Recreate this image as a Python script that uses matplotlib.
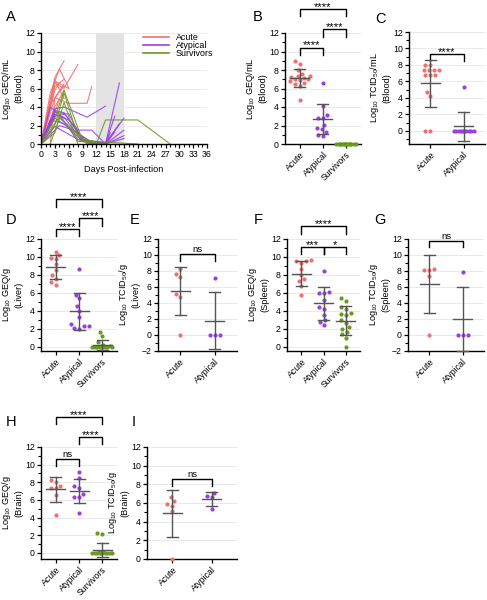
import numpy as np
import matplotlib
matplotlib.use("Agg")
import matplotlib.pyplot as plt
from matplotlib.ticker import MultipleLocator

plt.rcParams['font.family'] = ['Liberation Sans', 'DejaVu Sans']
plt.rcParams['mathtext.default'] = 'regular'
plt.rcParams['font.size'] = 6.5

C_ACUTE = '#F07070'
C_ATYP = '#9A3FE6'
C_SURV = '#6A9A1E'
C_ERR = '#555555'
colors = {'Acute': C_ACUTE, 'Atypical': C_ATYP, 'Survivors': C_SURV}

# ---- panel A: blood kinetics per animal
acute_days = [[0, 3, 5], [0, 3, 5, 8], [0, 2, 4, 6], [0, 3, 6, 10, 11], [0, 3, 5],
              [0, 2, 5], [0, 3, 4], [0, 3, 5], [0, 2, 3, 6], [0, 3, 5], [2, 3, 5],
              [0, 2, 4]]
acute_vals = [[0, 7.2, 9.0], [0, 6.6, 6.0, 8.6], [0, 5.5, 8.1, 6.1], [0, 5.0, 4.4, 4.4, 6.2],
              [0, 6.2, 7.0], [0, 4.3, 6.3], [0, 5.8, 6.6], [0, 4.0, 5.8], [0, 3.8, 6.8, 6.0],
              [0, 6.9, 4.9], [0, 5.0, 6.5], [0, 2.2, 4.8]]
atyp_days = [[0, 3, 5, 10, 14], [0, 3, 5, 8, 11, 14, 17], [0, 3, 6, 9, 14, 18],
             [0, 2, 5, 9, 14, 18], [0, 3, 6, 10, 14, 18], [0, 3, 5, 9, 14, 16],
             [0, 4, 7, 11, 14, 18], [0, 2, 4, 8, 14, 17], [0, 3, 6, 11, 14, 16],
             [0, 3, 8, 14, 15], [0, 3, 5, 9, 11]]
atyp_vals = [[0, 3.8, 4.0, 2.9, 4.1], [0, 3.4, 3.3, 1.5, 1.5, 0, 6.6], [0, 3.0, 3.3, 0.4, 0, 2.8],
             [0, 2.6, 2.2, 0.3, 0, 1.5], [0, 3.2, 2.6, 0, 0, 0.9], [0, 3.6, 3.4, 0.5, 0.1, 3.0],
             [0, 2.0, 1.5, 0.1, 0, 0.6], [0, 4.0, 3.2, 0.3, 0.1, 2.2], [0, 2.8, 1.8, 0.2, 0, 1.3],
             [0, 1.9, 0.5, 0, 1.2], [0, 3.2, 2.9, 0.3, 0]]
surv_days = [[0, 3, 5, 8, 12, 14, 21, 28], [0, 3, 5, 9, 14, 21], [0, 2, 4, 8, 11],
             [2, 4, 6, 10, 14], [0, 3, 5, 8]]
surv_vals = [[0, 2.0, 5.5, 0.8, 0, 2.6, 2.6, 0], [0, 2.8, 5.8, 0.4, 0.2, 0], [0, 1.5, 3.0, 0.5, 0],
             [0, 2.8, 2.0, 0.2, 0], [0, 1.2, 4.5, 0]]

# ---- scatter panels: values, group means and SDs
b_groups = ['Acute', 'Atypical', 'Survivors']
b_vals = [[9.0, 8.7, 8.0, 7.6, 7.4, 7.3, 7.2, 7.1, 7.0, 7.0, 6.9, 6.8, 6.6, 6.5, 6.3, 4.8],
          [6.6, 4.1, 3.1, 2.8, 2.8, 2.1, 1.7, 1.6, 1.3, 1.0, 0.9],
          [0] * 14]
b_mean = [7.15, 2.7, 0.0]
b_sd = [1.0, 1.6, 0.0]

c_groups = ['Acute', 'Atypical']
c_vals = [[8.0, 8.0, 7.4, 7.4, 7.4, 7.4, 6.8, 6.8, 6.8, 4.7, 4.2, 0, 0],
          [5.3] + [0] * 10]
c_mean = [5.75, 0.55]
c_sd = [2.85, 1.75]

d_groups = ['Acute', 'Atypical', 'Survivors']
d_vals = [[10.6, 10.2, 9.9, 9.8, 9.2, 8.6, 8.0, 7.6, 7.2, 6.9],
          [8.7, 5.8, 5.4, 4.5, 4.0, 3.3, 2.5, 2.3, 2.3, 2.1, 2.0],
          [1.7, 1.2, 0.5, 0.2, 0.1, 0.1, 0, 0, 0, 0, 0, 0, 0, 0]]
d_mean = [8.85, 3.95, 0.2]
d_sd = [1.35, 2.05, 0.55]

e_groups = ['Acute', 'Atypical']
e_vals = [[8.3, 7.6, 7.3, 5.1, 4.8, 0], [7.1, 0, 0, 0]]
e_mean = [5.5, 1.8]
e_sd = [3.0, 3.55]

f_groups = ['Acute', 'Atypical', 'Survivors']
f_vals = [[9.7, 9.6, 9.5, 9.3, 8.7, 8.0, 7.5, 7.3, 6.8, 5.8],
          [8.4, 6.1, 6.0, 6.0, 5.2, 4.4, 4.2, 3.6, 3.0, 2.8, 2.4],
          [5.4, 5.1, 4.4, 4.2, 3.8, 3.7, 3.6, 3.0, 2.7, 2.2, 2.0, 1.7, 1.4, 1.0, 0.0]]
f_mean = [8.15, 4.85, 2.9]
f_sd = [1.35, 1.85, 1.6]

g_groups = ['Acute', 'Atypical']
g_vals = [[8.3, 8.1, 8.1, 7.4, 0], [7.9, 0, 0, 0]]
g_mean = [6.4, 2.0]
g_sd = [3.6, 3.95]

h_groups = ['Acute', 'Atypical', 'Survivors']
h_vals = [[8.3, 8.0, 7.6, 7.4, 7.3, 6.6, 4.3],
          [9.2, 8.5, 7.6, 7.4, 6.7, 6.3, 6.3, 4.5],
          [2.2, 2.1, 0.1, 0.1, 0, 0, 0, 0, 0, 0, 0, 0, 0, 0]]
h_mean = [7.2, 7.0, 0.3]
h_sd = [1.45, 1.4, 0.8]

i_groups = ['Acute', 'Atypical']
i_vals = [[6.6, 6.2, 5.9, 5.7, 5.1, 0], [7.1, 6.7, 6.6, 5.4]]
i_mean = [4.9, 6.4]
i_sd = [2.5, 0.75]

fig = plt.figure(figsize=(4.87, 6.0), dpi=100)
W, H = 487.0, 600.0


def add_ax(l, t, r, b):
    return fig.add_axes([l / W, 1 - b / H, (r - l) / W, (b - t) / H])


def style(ax, ylim, ylabel):
    ax.set_ylim(*ylim)
    ax.yaxis.set_major_locator(MultipleLocator(2))
    ax.yaxis.set_minor_locator(MultipleLocator(1))
    ax.grid(axis='y', color='#e6e6e6', lw=0.6)
    ax.set_axisbelow(True)
    for s in ['top', 'right']:
        ax.spines[s].set_visible(False)
    for s in ['left', 'bottom']:
        ax.spines[s].set_linewidth(1.0)
    ax.tick_params(which='major', length=3, width=0.9, labelsize=6.3, pad=1.5)
    ax.tick_params(which='minor', length=2, width=0.8)
    ax.set_ylabel(ylabel, fontsize=6.6, linespacing=1.15)
    wpx = ax.get_position().width * W
    ax.yaxis.set_label_coords(-18.0 / wpx, 0.5)


def swarm(vals, ppx, ppy, diam=5.0, maxw=10.0):
    # simple beeswarm in pixel space, offsets returned in category units
    v = np.array(vals, float)
    order = np.argsort(v)
    cands = sorted(np.arange(-maxw, maxw + 0.01, 0.5), key=lambda c: (abs(c), c))
    placed = []
    offs = np.zeros(len(v))
    for idx in order:
        y = v[idx] * ppy
        best, best_d = 0.0, -1.0
        for c in cands:
            d = min([np.hypot(c - px, y - py) for px, py in placed] or [99.0])
            if d >= diam:
                best = c
                break
            if d > best_d:
                best, best_d = c, d
        placed.append((best, y))
        offs[idx] = best / ppx
    return offs


def strip(ax, groups, vals, means, sds, ylim, ylabel, brackets):
    n = len(groups)
    ax.set_xlim(-0.65, n - 0.35)
    pos = ax.get_position()
    ppx = pos.width * W / (n + 0.3)  # pixels per category
    ppy = pos.height * H / (ylim[1] - ylim[0])
    mw, cw = 9.5 / ppx, 5.5 / ppx
    for i, g in enumerate(groups):
        offs = swarm(vals[i], ppx, ppy)
        ax.scatter(i + offs, vals[i], s=9, color=colors[g], lw=0, zorder=3, clip_on=False)
        m, s = means[i], sds[i]
        ax.plot([i - mw, i + mw], [m, m], color=C_ERR, lw=1.0, zorder=4)
        if s > 0:
            ax.plot([i, i], [m - s, m + s], color=C_ERR, lw=1.0, zorder=4, clip_on=False)
            for y in (m - s, m + s):
                ax.plot([i - cw, i + cw], [y, y], color=C_ERR, lw=1.0, zorder=4, clip_on=False)
    ax.set_xticks(range(n))
    ax.set_xticklabels(groups, rotation=45, ha='right', rotation_mode='anchor', fontsize=6.6)
    style(ax, ylim, ylabel)
    for (a, b, y, txt) in brackets:
        h = 0.8
        ax.plot([a, a, b, b], [y - h, y, y, y - h], color='black', lw=1.0, clip_on=False)
        if txt == 'ns':
            ax.annotate(txt, xy=((a + b) / 2, y), xytext=(0, 1.5), textcoords='offset points',
                        ha='center', va='baseline', fontsize=6.8, annotation_clip=False)
        else:
            ax.annotate(txt, xy=((a + b) / 2, y), xytext=(0, -0.5), textcoords='offset points',
                        ha='center', va='baseline', fontsize=8, annotation_clip=False)


def letter(x, y, s):
    fig.text(x / W, 1 - y / H, s, fontsize=10.5, ha='left', va='center')


# ---- A
axA = add_ax(41, 33, 207, 144)
axA.axvspan(12, 18, color='#e3e3e3', lw=0, zorder=0)
for days, vals in zip(acute_days, acute_vals):
    axA.plot(days, vals, color=C_ACUTE, lw=0.8, alpha=0.9)
for days, vals in zip(atyp_days, atyp_vals):
    axA.plot(days, vals, color=C_ATYP, lw=0.8, alpha=0.9)
for days, vals in zip(surv_days, surv_vals):
    axA.plot(days, vals, color=C_SURV, lw=0.8, alpha=0.9)
axA.set_xlim(0, 36)
axA.xaxis.set_major_locator(MultipleLocator(3))
axA.xaxis.set_minor_locator(MultipleLocator(1))
style(axA, (0, 12), 'Log$_{10}$ GEQ/mL\n(Blood)')
axA.set_xlabel('Days Post-infection', fontsize=6.6, labelpad=4)
hl = [plt.Line2D([], [], color=c, lw=1.2) for c in (C_ACUTE, C_ATYP, C_SURV)]
axA.legend(hl, ['Acute', 'Atypical', 'Survivors'], loc='upper left', bbox_to_anchor=(0.614, 1.0),
           frameon=False, fontsize=6.4, handlelength=2.9, labelspacing=-0.1, handletextpad=0.8,
           borderaxespad=0, borderpad=0)

# ---- B..I
axB = add_ax(285, 33, 361, 144)
strip(axB, b_groups, b_vals, b_mean, b_sd, (0, 12), 'Log$_{10}$ GEQ/mL\n(Blood)',
      [(0, 1, 10.4, '****'), (1, 2, 12.4, '****'), (0, 2, 14.6, '****')])

axC = add_ax(409, 32, 485, 144)
strip(axC, c_groups, c_vals, c_mean, c_sd, (-1.6, 12), 'Log$_{10}$ TCID$_{50}$/mL\n(Blood)',
      [(0, 1, 9.3, '****')])

axD = add_ax(41, 239, 117, 351)
strip(axD, d_groups, d_vals, d_mean, d_sd, (-0.45, 12), 'Log$_{10}$ GEQ/g\n(Liver)',
      [(0, 1, 13.1, '****'), (1, 2, 14.3, '****'), (0, 2, 16.4, '****')])

axE = add_ax(158, 239, 237, 351)
strip(axE, e_groups, e_vals, e_mean, e_sd, (-2, 12), 'Log$_{10}$ TCID$_{50}$/g\n(Liver)',
      [(0, 1, 10.1, 'ns')])

axF = add_ax(287, 239, 360, 351)
strip(axF, f_groups, f_vals, f_mean, f_sd, (-0.45, 12), 'Log$_{10}$ GEQ/g\n(Spleen)',
      [(0, 1, 11.1, '***'), (1, 2, 11.1, '*'), (0, 2, 13.4, '****')])

axG = add_ax(408, 239, 484, 351)
strip(axG, g_groups, g_vals, g_mean, g_sd, (-2, 12), 'Log$_{10}$ TCID$_{50}$/g\n(Spleen)',
      [(0, 1, 11.8, 'ns')])

axH = add_ax(41, 447, 117, 559)
strip(axH, h_groups, h_vals, h_mean, h_sd, (-0.7, 12), 'Log$_{10}$ GEQ/g\n(Brain)',
      [(0, 1, 10.6, 'ns'), (1, 2, 13.1, '****'), (0, 2, 15.4, '****')])

axI = add_ax(147, 447, 237, 559)
strip(axI, i_groups, i_vals, i_mean, i_sd, (0, 12), 'Log$_{10}$ TCID$_{50}$/g\n(Brain)',
      [(0, 1, 8.6, 'ns')])

letter(6, 17, 'A')
letter(253, 17, 'B')
letter(375, 19, 'C')
letter(6, 220, 'D')
letter(130, 220, 'E')
letter(254, 220, 'F')
letter(374, 220, 'G')
letter(6, 422, 'H')
letter(132, 422, 'I')

fig.savefig('out.png', dpi=100)
